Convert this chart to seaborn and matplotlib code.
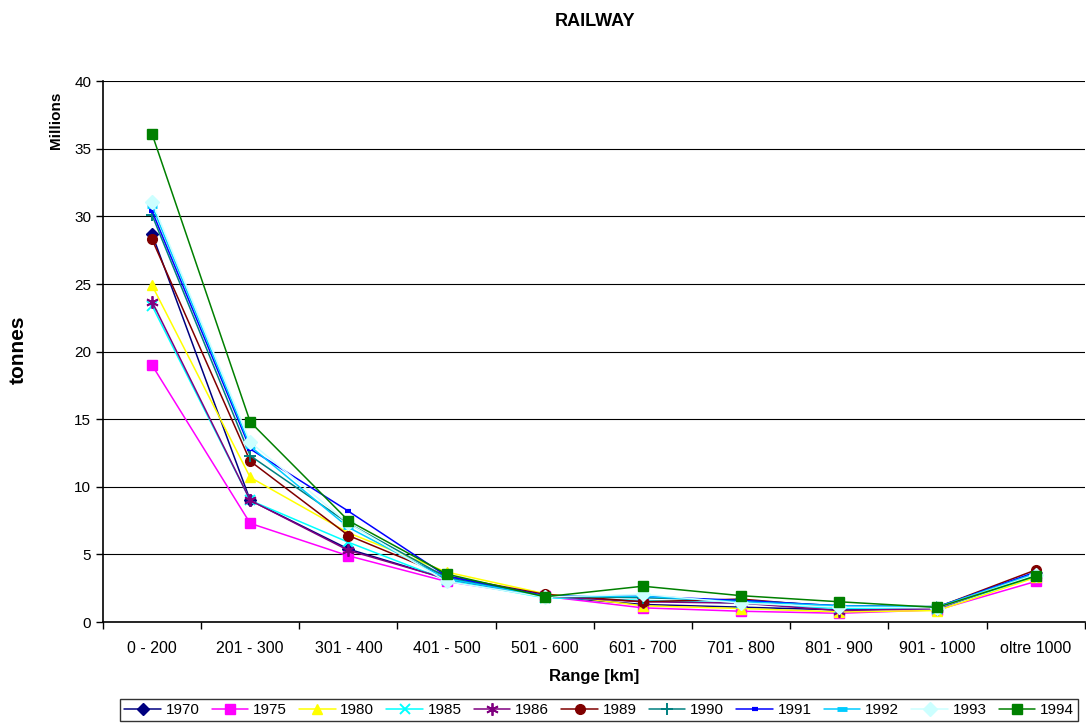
import matplotlib
matplotlib.use("Agg")
import matplotlib.pyplot as plt
import seaborn as sns
import pandas as pd
from matplotlib.ticker import FixedLocator, NullFormatter

ranges = ["0 - 200", "201 - 300", "301 - 400", "401 - 500", "501 - 600",
          "601 - 700", "701 - 800", "801 - 900", "901 - 1000", "oltre 1000"]
years = ["1970", "1975", "1980", "1985", "1986", "1989",
         "1990", "1991", "1992", "1993", "1994"]

# tonnes (millions) per distance band
v1970 = [28.7, 9.0, 5.4, 3.2, 1.9, 1.3, 1.1, 0.9, 1.0, 3.6]
v1975 = [19.0, 7.3, 4.9, 3.0, 1.9, 1.05, 0.8, 0.65, 0.9, 3.0]
v1980 = [24.9, 10.7, 6.6, 3.7, 2.1, 1.2, 1.0, 0.75, 0.85, 3.3]
v1985 = [23.4, 9.0, 5.9, 3.1, 1.8, 1.6, 1.4, 1.0, 1.0, 3.4]
v1986 = [23.7, 9.0, 5.3, 3.2, 1.9, 1.5, 1.4, 0.85, 1.0, 3.5]
v1989 = [28.3, 11.9, 6.4, 3.4, 2.05, 1.5, 1.7, 1.1, 1.1, 3.85]
v1990 = [30.1, 12.3, 7.3, 3.3, 1.9, 1.8, 1.6, 1.2, 1.15, 3.5]
v1991 = [30.4, 12.8, 8.2, 3.4, 1.95, 1.9, 1.6, 1.2, 1.1, 3.7]
v1992 = [30.8, 13.0, 7.0, 3.2, 1.9, 1.9, 1.5, 1.2, 1.1, 3.6]
v1993 = [31.1, 13.3, 7.3, 3.0, 1.85, 2.05, 1.4, 1.1, 1.05, 3.5]
v1994 = [36.1, 14.8, 7.5, 3.55, 1.87, 2.65, 1.95, 1.5, 1.08, 3.4]

series = [v1970, v1975, v1980, v1985, v1986, v1989, v1990, v1991, v1992, v1993, v1994]

colors = ["#000080", "#FF00FF", "#FFFF00", "#00FFFF", "#800080", "#800000",
          "#008080", "#0000FF", "#00CCFF", "#CCFFFF", "#008000"]
markers = ["D", "s", "^", "x", (6, 2, 0), "o", "+", "_", "_", "D", "s"]
msizes = [6, 7, 7, 7, 9, 7, 8, 5, 7, 7, 7]
mews = [1.0, 1.0, 1.0, 1.4, 1.3, 1.0, 1.4, 3.0, 3.5, 1.0, 1.0]

rows = []
for yr, vals in zip(years, series):
    for i, v in enumerate(vals):
        rows.append({"year": yr, "pos": i, "value": v})
df = pd.DataFrame(rows)

sns.set_theme(style="white")
plt.rcParams["font.family"] = ["Liberation Sans", "DejaVu Sans"]
plt.rcParams["text.color"] = "black"
plt.rcParams["axes.labelcolor"] = "black"
plt.rcParams["xtick.color"] = "black"
plt.rcParams["ytick.color"] = "black"

fig = plt.figure(figsize=(10.86, 7.25), dpi=100)
ax = fig.add_axes([0.0948, 0.142, 0.904, 0.746])

for yr, c, m, ms, mew in zip(years, colors, markers, msizes, mews):
    sub = df[df["year"] == yr]
    sns.lineplot(data=sub, x="pos", y="value", color=c, marker=m,
                 markersize=ms, markeredgewidth=mew, markeredgecolor=c,
                 markerfacecolor=c, linewidth=1.1, ax=ax, label=yr)

ax.set_xlim(-0.5, 9.5)
ax.set_ylim(0, 40)
ax.set_yticks(range(0, 41, 5))
ax.yaxis.grid(True, color="black", linewidth=0.8)
ax.set_axisbelow(True)

ax.set_xticks(range(len(ranges)))
ax.set_xticklabels(ranges)
ax.xaxis.set_minor_locator(FixedLocator([i - 0.5 for i in range(len(ranges) + 1)]))
ax.xaxis.set_minor_formatter(NullFormatter())
ax.tick_params(axis="x", which="major", length=0, pad=14, labelsize=11.5,
               labelcolor="black")
ax.tick_params(axis="x", which="minor", length=5, width=1, color="black",
               direction="out", bottom=True)
ax.tick_params(axis="y", length=5, width=1, color="black", direction="out",
               labelsize=11, left=True, labelcolor="black")

for side in ("top", "right"):
    ax.spines[side].set_visible(False)
for side in ("left", "bottom"):
    ax.spines[side].set_color("black")
    ax.spines[side].set_linewidth(1.2)

ax.set_xlabel("Range [km]", fontsize=12, fontweight="bold", labelpad=9,
              color="black")
ax.set_ylabel("")
fig.text(0.017, 0.517, "tonnes", rotation=90, fontsize=15, fontweight="bold",
         ha="center", va="center", color="black")
fig.text(0.052, 0.834, "Millions", rotation=90, fontsize=11, fontweight="bold",
         ha="center", va="center", color="black")
fig.text(0.548, 0.970, "RAILWAY", fontsize=13, fontweight="bold", ha="center",
         va="center", color="black")

handles, labels = ax.get_legend_handles_labels()
ax.get_legend().remove()
leg = fig.legend(handles, labels, loc="center", bbox_to_anchor=(0.5516, 0.0207),
                 ncol=len(years), frameon=True, fancybox=False, fontsize=11,
                 handlelength=2.4, handletextpad=0.3, columnspacing=0.8,
                 borderpad=0.25, labelcolor="black")
leg.get_frame().set_edgecolor("black")
leg.get_frame().set_linewidth(1.0)

fig.savefig("out.png", dpi=100)
